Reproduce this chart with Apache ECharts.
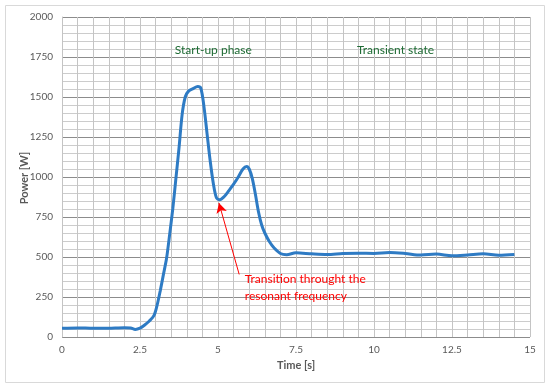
<!DOCTYPE html>
<html>
<head>
<meta charset="utf-8">
<script src="https://cdn.jsdelivr.net/npm/echarts@6/dist/echarts.min.js"></script>
<style>html,body{margin:0;padding:0;background:#fff;}#c{width:550px;height:388px;}</style>
</head>
<body>
<div id="c"></div>
<script>
var times = [0,0.5,1,1.5,2,2.2,2.35,2.5,2.65,2.8,2.95,3.05,3.15,3.25,3.35,3.45,3.55,3.65,3.75,3.85,3.95,4.05,4.2,4.35,4.45,4.55,4.65,4.75,4.85,4.95,5.05,5.2,5.35,5.5,5.65,5.8,5.92,6.0,6.1,6.2,6.3,6.4,6.5,6.65,6.8,7.0,7.2,7.5,8.0,8.5,9.0,9.5,10.0,10.5,11.0,11.5,12.0,12.5,13.0,13.5,14.0,14.5];
var power = [55,57,54,55,58,56,47,55,75,100,135,200,290,390,490,640,800,990,1180,1390,1500,1535,1552,1565,1555,1440,1270,1100,960,870,858,878,915,955,1000,1050,1066,1050,990,890,780,700,650,595,556,522,514,526,520,516,522,524,522,528,522,512,518,508,513,520,511,516];
var xTicks = [0,2.5,5,7.5,10,12.5,15];
var yTicks = [0,250,500,750,1000,1250,1500,1750,2000];
var phaseLabels = [
  {text:'Start-up phase', t:4.85, p:1791},
  {text:'Transient state', t:10.69, p:1791}
];
var noteLines = ['Transition throught the','resonant frequency'];
var noteAnchor = {t:5.86, p:[359,258]};
var arrowFrom = [5.68, 391];
var arrowTo = [5.03, 838];

var font = 'Lato, "Open Sans", sans-serif';
var chart = echarts.init(document.getElementById('c'));
var data = times.map(function(t,i){return [t, power[i]];});
chart.setOption({
  animation:false,
  grid:{left:62,right:20,top:17,bottom:51,containLabel:false},
  xAxis:{
    type:'value',min:xTicks[0],max:xTicks[xTicks.length-1],interval:2.5,
    name:'Time [s]',nameLocation:'middle',nameGap:23,
    nameTextStyle:{color:'#595959',fontWeight:'bold',fontSize:11,fontFamily:font},
    axisLine:{show:false},axisTick:{show:false},
    axisLabel:{color:'#595959',fontSize:10,fontFamily:font,margin:8,formatter:function(v){return String(v);}},
    splitLine:{show:true,lineStyle:{color:'#c4c4c4',width:1}},
    minorTick:{show:false,splitNumber:5},
    minorSplitLine:{show:true,lineStyle:{color:'#c4c4c4',width:1}}
  },
  yAxis:{
    type:'value',min:yTicks[0],max:yTicks[yTicks.length-1],interval:250,
    axisLine:{show:true,lineStyle:{color:'#c4c4c4'}},axisTick:{show:false},
    axisLabel:{color:'#595959',fontSize:10,fontFamily:font,margin:9,formatter:function(v){return String(v);}},
    splitLine:{show:true,lineStyle:{color:'#8c8c8c',width:1}},
    minorTick:{show:false,splitNumber:5},
    minorSplitLine:{show:true,lineStyle:{color:'#cccccc',width:1}}
  },
  series:[{
    type:'line',data:data,smooth:0.3,showSymbol:false,symbol:'none',
    lineStyle:{color:'#2E7BC4',width:3},
    markLine:{
      silent:true,symbol:['none','arrow'],symbolSize:[8,10],
      label:{show:false},
      lineStyle:{color:'#ff0000',width:1,type:'solid'},
      data:[[{coord:arrowFrom},{coord:arrowTo}]]
    }
  }]
});
var g = [
  {type:'rect',shape:{x:5.5,y:5.5,width:539,height:377},style:{fill:'none',stroke:'#d9d9d9',lineWidth:1},z:-1},
  {type:'text',x:24,y:178,rotation:Math.PI/2,style:{text:'Power [W]',fill:'#595959',font:'bold 11px '+font,align:'center',verticalAlign:'middle'}}
];
phaseLabels.forEach(function(l){
  var pt = chart.convertToPixel({gridIndex:0},[l.t,l.p]);
  g.push({type:'text',x:pt[0],y:pt[1],style:{text:l.text,fill:'#1E6B34',font:'12px '+font,align:'center',verticalAlign:'middle'}});
});
noteLines.forEach(function(s,i){
  var pt = chart.convertToPixel({gridIndex:0},[noteAnchor.t,noteAnchor.p[i]]);
  g.push({type:'text',x:pt[0],y:pt[1],style:{text:s,fill:'#ff0000',font:'12px '+font,align:'left',verticalAlign:'middle'}});
});
chart.setOption({graphic:g});
</script>
</body>
</html>
